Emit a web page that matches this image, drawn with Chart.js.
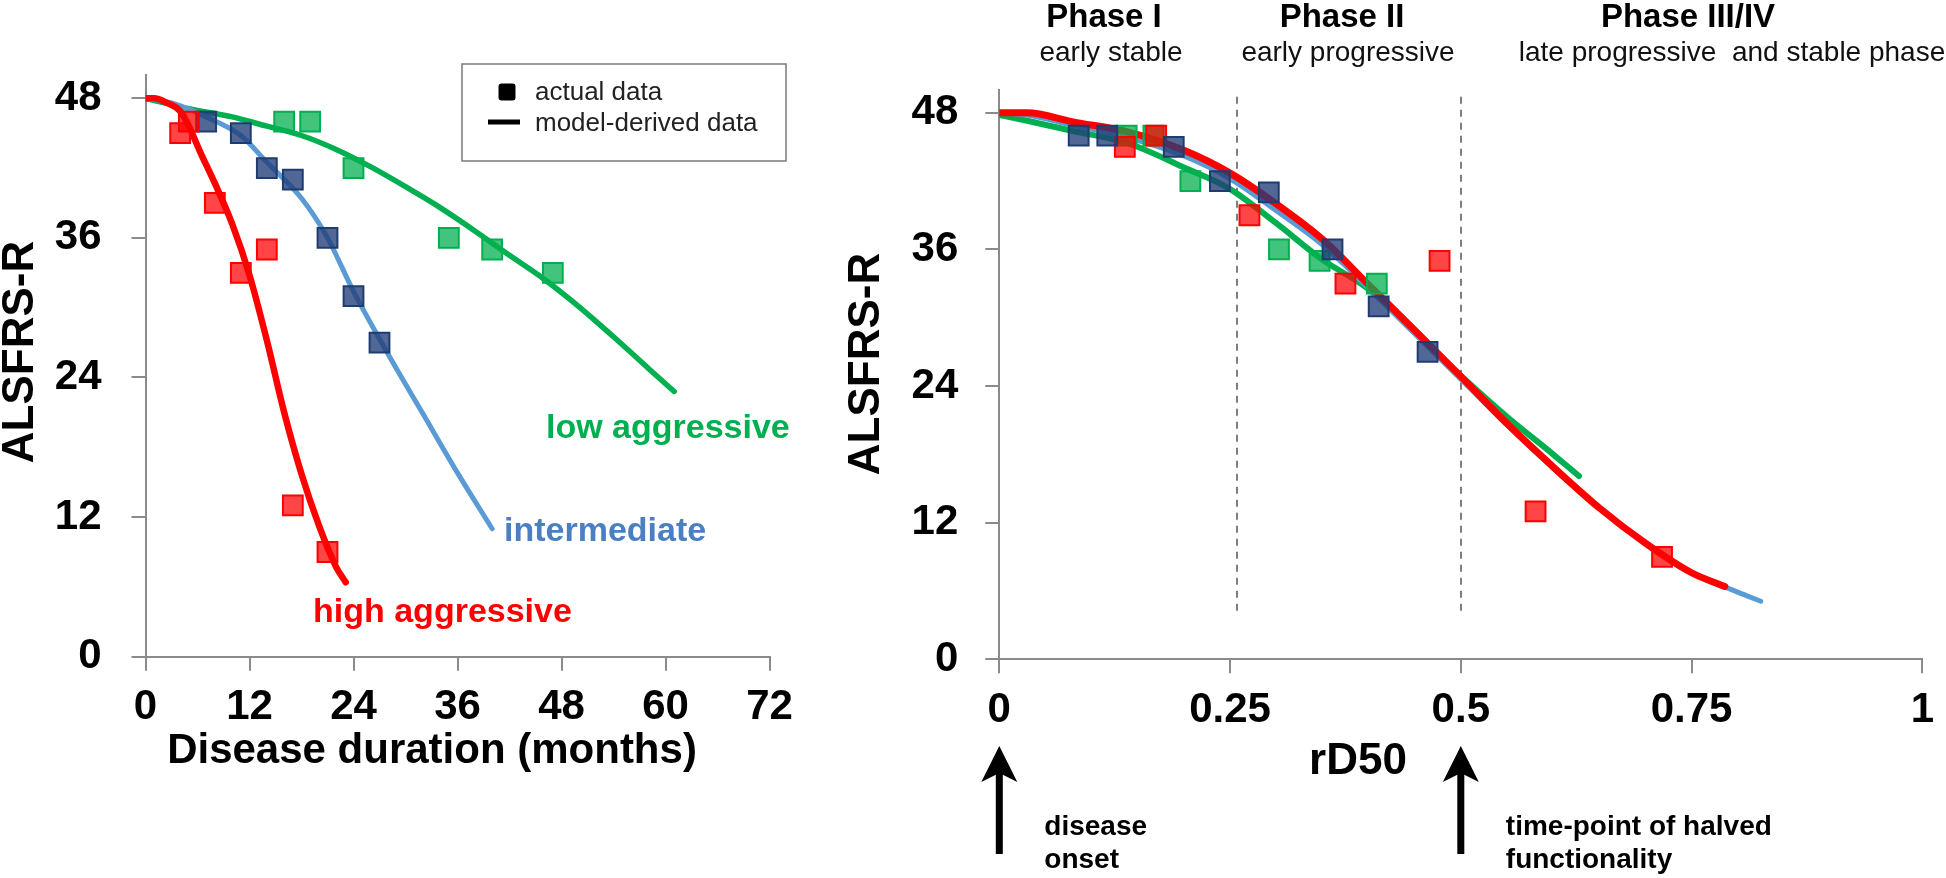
<!DOCTYPE html>
<html>
<head>
<meta charset="utf-8">
<script src="https://cdn.jsdelivr.net/npm/chart.js@4.4.1/dist/chart.umd.min.js"></script>
<style>
html, body { margin: 0; padding: 0; background: #fff; }
#wrap { position: relative; width: 1946px; height: 878px; }
canvas { position: absolute; left: 0; top: 0; width: 1946px; height: 878px; }
</style>
</head>
<body>
<div id="wrap">
  <canvas id="leftChart" width="1946" height="878"></canvas>
  <canvas id="rightChart" width="1946" height="878"></canvas>
</div>
<script>
// ---- data ----
// left panel: actual data (months, ALSFRS-R)
const monthsHigh = [4, 5, 8, 11, 14, 17, 21];
const alsHigh = [45, 46, 39, 33, 35, 13, 9];
const monthsMid = [7, 11, 14, 17, 21, 24, 27];
const alsMid = [46, 45, 42, 41, 36, 31, 27];
const monthsLow = [16, 19, 24, 35, 40, 47];
const alsLow = [46, 46, 42, 36, 35, 33];

// left panel: model-derived curves
const fitMonthsHigh = [0, 1, 2.5, 4, 5, 6.3, 8, 10, 12, 14, 16, 18, 20, 22, 23.1];
const fitHigh = [48, 48, 47.6, 46.9, 45.6, 43.4, 40.7, 37.2, 32.8, 27.2, 21.0, 15.7, 11.3, 7.7, 6.4];
const fitMonthsMid = [0, 3, 7, 11, 14, 18, 21, 24, 28, 32, 36, 40];
const fitMid = [48, 47.6, 46.4, 44.8, 42.5, 39.4, 36.0, 31.4, 26.0, 20.9, 15.8, 11.0];
const fitMonthsLow = [0, 5, 10, 14, 18, 22, 26, 30, 34, 38, 42, 46, 50, 54, 58, 61];
const fitLow = [48, 47.1, 46.4, 45.6, 44.8, 43.6, 42.1, 40.4, 38.6, 36.6, 34.5, 32.45, 30.1, 27.5, 24.8, 22.8];

// right panel: actual data (rD50)
const rdHigh = [0.136, 0.170, 0.271, 0.375, 0.477, 0.581, 0.718];
const rdMid = [0.086, 0.117, 0.189, 0.239, 0.292, 0.361, 0.411, 0.464];
const alsMidR = [46, 46, 45, 42, 41, 36, 31, 27];
const rdLow = [0.138, 0.167, 0.207, 0.303, 0.347, 0.409];

// right panel: model-derived curves
const fitRdHigh = [0, 0.03, 0.08, 0.14, 0.2, 0.25, 0.3, 0.35, 0.4, 0.45, 0.5, 0.55, 0.6, 0.65, 0.7, 0.75, 0.786];
const fitHighR = [48, 48, 47.2, 46.3, 44.7, 42.7, 40.0, 36.9, 32.9, 28.9, 24.85, 20.7, 16.9, 13.3, 10.2, 7.6, 6.4];
const fitRdMid = [0, 0.03, 0.08, 0.14, 0.2, 0.25, 0.3, 0.35, 0.4, 0.45, 0.5, 0.55, 0.6, 0.65, 0.7, 0.75, 0.8, 0.825];
const fitMidR = [48, 47.8, 46.9, 45.8, 44.2, 42.2, 39.4, 36.4, 32.6, 28.6, 24.6, 20.6, 16.8, 13.3, 10.2, 7.6, 5.9, 5.1];
const fitRdLow = [0, 0.03, 0.08, 0.14, 0.2, 0.25, 0.3, 0.35, 0.4, 0.45, 0.5, 0.55, 0.6, 0.628];
const fitLowR = [47.8, 47.3, 46.4, 45.3, 43.2, 41.3, 38.3, 35.1, 32.5, 28.7, 24.9, 21.3, 18.0, 16.1];

const yTicks = [0, 12, 24, 36, 48];
const phaseCuts = [0.257, 0.5];
const phaseNames = ["Phase I", "Phase II", "Phase III/IV"];
const phaseNotes = ["early stable", "early progressive", "late progressive  and stable phase"];
const arrowAt = [0, 0.5];
const arrowNotes = [["disease", "onset"], ["time-point of halved", "functionality"]];

// ---- styles ----
const FONT = "'Liberation Sans', Arial, sans-serif";
const GREY = "#8a8a8a";
const RED = "#ff0000", RED_FILL = "rgba(255,0,0,0.73)";
const BLUE_LINE = "#5b9bd5", BLUE_EDGE = "#1f3c70", BLUE_FILL = "rgba(32,62,120,0.78)";
const GREEN = "#00b050", GREEN_FILL = "rgba(0,176,80,0.74)";

function pts(xs, ys) {
    return xs.map((x, i) => ({ x: x, y: ys[i] }));
}

function marks(xs, ys, fill, edge, order) {
    return {
        data: pts(xs, ys), showLine: false, order: order,
        pointStyle: "rect", pointRadius: 14, pointHoverRadius: 14,
        pointBackgroundColor: fill, pointBorderColor: edge, pointBorderWidth: 2
    };
}

function curve(xs, ys, color, width, order) {
    return {
        data: pts(xs, ys), showLine: true, order: order,
        borderColor: color, borderWidth: width, pointRadius: 0, pointHoverRadius: 0,
        tension: 0.4, cubicInterpolationMode: "monotone", fill: false,
        borderCapStyle: "round", borderJoinStyle: "round"
    };
}

function tickFont() {
    return { family: FONT, size: 42, weight: "bold", lineHeight: 1.2 };
}

function xAxis(min, max, step, height) {
    return {
        type: "linear", min: min, max: max,
        ticks: { stepSize: step, color: "#000", font: tickFont(), padding: 12,
                 maxRotation: 0, autoSkip: false, callback: v => String(v) },
        grid: { drawOnChartArea: false, drawTicks: true, tickLength: 14, color: GREY, lineWidth: 2 },
        border: { display: true, color: GREY, width: 2 },
        afterFit: s => { s.height = height; }
    };
}

function yAxis(width, pad) {
    return {
        type: "linear", min: 0, max: 50,
        ticks: { color: "#000", font: tickFont(), padding: pad },
        afterBuildTicks: s => { s.ticks = yTicks.map(v => ({ value: v })); },
        grid: { drawOnChartArea: false, drawTicks: true, tickLength: 14, color: GREY, lineWidth: 2 },
        border: { display: true, color: GREY, width: 2 },
        afterFit: s => { s.width = width; }
    };
}

function text(ctx, s, x, y, size, weight, color, align, base) {
    ctx.save();
    ctx.font = weight + " " + size + "px " + FONT;
    ctx.fillStyle = color;
    ctx.textAlign = align || "center";
    ctx.textBaseline = base || "middle";
    ctx.fillText(s, x, y);
    ctx.restore();
}

function vtext(ctx, s, x, y, size) {
    ctx.save();
    ctx.translate(x, y);
    ctx.rotate(-Math.PI / 2);
    text(ctx, s, 0, 0, size, "bold", "#000", "center", "middle");
    ctx.restore();
}

// ---- left panel decorations ----
const leftDeco = {
    id: "leftDeco",
    afterDraw(chart) {
        const ctx = chart.ctx;
        vtext(ctx, "ALSFRS-R", 21, 352, 44);
        text(ctx, "Disease duration (months)", 432, 751, 42, "bold", "#000");

        text(ctx, "low aggressive", 546, 438, 34, "bold", GREEN, "left", "alphabetic");
        text(ctx, "intermediate", 504, 541, 34, "bold", "#4a7fc4", "left", "alphabetic");
        text(ctx, "high aggressive", 313, 622, 34, "bold", RED, "left", "alphabetic");

        // legend box
        ctx.save();
        ctx.strokeStyle = "#7a7a7a";
        ctx.lineWidth = 1.5;
        ctx.strokeRect(462, 64, 324, 97);
        ctx.fillStyle = "#000";
        ctx.beginPath();
        ctx.roundRect(498.5, 83.5, 17, 17, 3);
        ctx.fill();
        ctx.lineWidth = 5;
        ctx.strokeStyle = "#000";
        ctx.beginPath();
        ctx.moveTo(488, 122);
        ctx.lineTo(520, 122);
        ctx.stroke();
        ctx.restore();
        text(ctx, "actual data", 535, 100, 26, "normal", "#222", "left", "alphabetic");
        text(ctx, "model-derived data", 535, 131, 26, "normal", "#222", "left", "alphabetic");
    }
};

// ---- right panel decorations ----
const rightDeco = {
    id: "rightDeco",
    beforeDatasetsDraw(chart) {
        const ctx = chart.ctx;
        const xs = chart.scales.x, ys = chart.scales.y;
        ctx.save();
        ctx.strokeStyle = "#7f7f7f";
        ctx.lineWidth = 2;
        ctx.setLineDash([7, 6]);
        phaseCuts.forEach(v => {
            const px = Math.round(xs.getPixelForValue(v));
            ctx.beginPath();
            ctx.moveTo(px, ys.getPixelForValue(49.4));
            ctx.lineTo(px, ys.getPixelForValue(4.2));
            ctx.stroke();
        });
        ctx.restore();
    },
    afterDraw(chart) {
        const ctx = chart.ctx;
        const xs = chart.scales.x;
        vtext(ctx, "ALSFRS-R", 867, 364, 44);
        text(ctx, "rD50", 1358, 762, 44, "bold", "#000");

        const nameX = [1104, 1342, 1688];
        const noteX = [1111, 1348, 1732];
        phaseNames.forEach((s, i) => text(ctx, s, nameX[i], 27, 33, "bold", "#000", "center", "alphabetic"));
        phaseNotes.forEach((s, i) => text(ctx, s, noteX[i], 61, 28, "normal", "#111", "center", "alphabetic"));

        arrowAt.forEach((v, i) => {
            const px = xs.getPixelForValue(v);
            ctx.save();
            ctx.fillStyle = "#000";
            ctx.fillRect(px - 3.5, 772, 7, 82);
            ctx.beginPath();
            ctx.moveTo(px, 746);
            ctx.lineTo(px + 18, 782);
            ctx.lineTo(px, 773);
            ctx.lineTo(px - 18, 782);
            ctx.closePath();
            ctx.fill();
            ctx.restore();
            text(ctx, arrowNotes[i][0], px + 45, 835, 28, "bold", "#000", "left", "alphabetic");
            text(ctx, arrowNotes[i][1], px + 45, 868, 28, "bold", "#000", "left", "alphabetic");
        });
    }
};

const common = {
    responsive: false,
    animation: false,
    events: [],
    plugins: { legend: { display: false }, tooltip: { enabled: false } }
};

new Chart(document.getElementById("leftChart"), {
    type: "scatter",
    data: {
        datasets: [
            marks(monthsLow, alsLow, GREEN_FILL, GREEN, 2),
            marks(monthsMid, alsMid, BLUE_FILL, BLUE_EDGE, 1),
            marks(monthsHigh, alsHigh, RED_FILL, RED, 0),
            curve(fitMonthsLow, fitLow, GREEN, 5.5, 6),
            curve(fitMonthsMid, fitMid, BLUE_LINE, 5, 5),
            curve(fitMonthsHigh, fitHigh, RED, 6.5, 4)
        ]
    },
    options: Object.assign({}, common, {
        layout: { padding: { left: 0, top: 75, right: 1176.5, bottom: 0 } },
        scales: { x: xAxis(0, 72, 12, 221.3), y: yAxis(145.5, 30) }
    }),
    plugins: [leftDeco]
});

new Chart(document.getElementById("rightChart"), {
    type: "scatter",
    data: {
        datasets: [
            marks(rdLow, alsLow, GREEN_FILL, GREEN, 2),
            marks(rdHigh, alsHigh, RED_FILL, RED, 1),
            marks(rdMid, alsMidR, BLUE_FILL, BLUE_EDGE, 0),
            curve(fitRdLow, fitLowR, GREEN, 6, 6),
            curve(fitRdMid, fitMidR, BLUE_LINE, 5, 5),
            curve(fitRdHigh, fitHighR, RED, 7, 4)
        ]
    },
    options: Object.assign({}, common, {
        layout: { padding: { left: 880, top: 90, right: 11, bottom: 0 } },
        scales: { x: xAxis(0, 1, 0.25, 218.7), y: yAxis(119.3, 27) }
    }),
    plugins: [rightDeco]
});
</script>
</body>
</html>
